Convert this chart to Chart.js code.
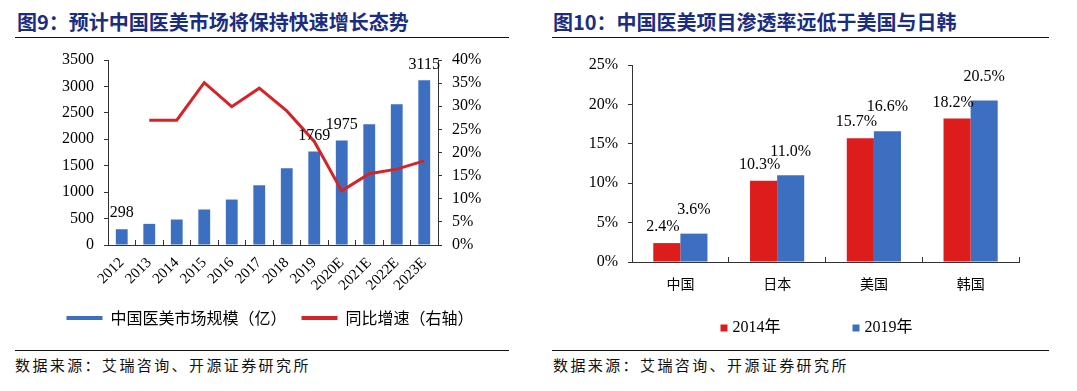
<!DOCTYPE html>
<html>
<head>
<meta charset="utf-8">
<script src="https://cdn.jsdelivr.net/npm/chart.js@4/dist/chart.umd.min.js"></script>
<style>
  html, body { margin: 0; padding: 0; background: #fff; }
  body { width: 1077px; height: 391px; position: relative; overflow: hidden; font-family: "Noto Sans CJK SC", sans-serif; }
  .title { position: absolute; top: 12px; font-size: 20px; line-height: 20px; font-weight: bold; color: #1b2d7f; white-space: nowrap; }
  .rule { position: absolute; height: 0; border-top: 1.5px solid #111; }
  .source { position: absolute; top: 357px; font-size: 15px; line-height: 16px; letter-spacing: 2.4px; color: #111; white-space: nowrap; }
  .box { position: absolute; top: 40px; height: 300px; }
</style>
</head>
<body>
<div class="title" style="left:17px">图9：预计中国医美市场将保持快速增长态势</div>
<div class="rule" style="left:15px;width:494px;top:37px"></div>
<div class="box" style="left:0;width:540px"><canvas id="marketChart"></canvas></div>
<div class="rule" style="left:15px;width:494px;top:350px"></div>
<div class="source" style="left:15px">数据来源：艾瑞咨询、开源证券研究所</div>

<div class="title" style="left:553px">图10：中国医美项目渗透率远低于美国与日韩</div>
<div class="rule" style="left:552px;width:497px;top:37px"></div>
<div class="box" style="left:540px;width:537px"><canvas id="rateChart"></canvas></div>
<div class="rule" style="left:552px;width:497px;top:350px"></div>
<div class="source" style="left:553px">数据来源：艾瑞咨询、开源证券研究所</div>

<script>
// chart 1 data
const years = ['2012', '2013', '2014', '2015', '2016', '2017', '2018', '2019', '2020E', '2021E', '2022E', '2023E'];
const marketSize = [298, 400, 482, 672, 860, 1130, 1450, 1769, 1975, 2285, 2665, 3115];
const yoyGrowth = [null, 27.0, 27.0, 35.1, 29.9, 33.9, 29.0, 22.4, 11.7, 15.4, 16.4, 18.2];
const labeledYears = ['2012', '2019', '2020E', '2023E'];
const sizeMax = 3500, sizeStep = 500;
const growthMax = 40, growthStep = 5;

// chart 2 data
const countries = ['中国', '日本', '美国', '韩国'];
const rate2014 = [2.4, 10.3, 15.7, 18.2];
const rate2019 = [3.6, 11.0, 16.6, 20.5];
const rateMax = 25, rateStep = 5;

const BLUE = '#3d6fc0';
const RED = '#dd1c1c';
const LINE_RED = '#d42428';
const AXIS = '#333';
const SERIF = "'Liberation Serif', 'Noto Sans CJK SC'";
const CJK = "'Noto Sans CJK SC'";

// value labels above bars
const valueLabels = {
    id: 'valueLabels',
    afterDatasetsDraw(chart, args, opts) {
        const ctx = chart.ctx;
        ctx.save();
        ctx.font = opts.font;
        ctx.fillStyle = '#000';
        ctx.textAlign = 'center';
        ctx.textBaseline = 'middle';
        chart.data.datasets.forEach((ds, di) => {
            const cfg = opts.sets[di];
            if (!cfg) return;
            chart.getDatasetMeta(di).data.forEach((bar, i) => {
                if (cfg.show && !cfg.show(i)) return;
                ctx.fillText(cfg.format(ds.data[i]), bar.x + cfg.dx, bar.y - cfg.dy);
            });
        });
        ctx.restore();
    }
};

// small square legend spaced wide apart
const pairLegend = {
    id: 'pairLegend',
    afterDraw(chart, args, opts) {
        if (!opts.box) return;
        const ctx = chart.ctx;
        ctx.save();
        ctx.font = opts.font;
        ctx.textBaseline = 'middle';
        const items = chart.data.datasets.map(ds => ({
            label: ds.label,
            color: ds.backgroundColor,
            w: opts.box + opts.gap + ctx.measureText(ds.label).width
        }));
        const total = items.reduce((s, it) => s + it.w, 0) + opts.spacing * (items.length - 1);
        let x = chart.width / 2 + opts.shift - total / 2;
        const y = chart.chartArea.bottom + opts.offset;
        items.forEach(it => {
            ctx.fillStyle = it.color;
            ctx.fillRect(x, y - opts.box / 2, opts.box, opts.box);
            ctx.fillStyle = '#000';
            ctx.fillText(it.label, x + opts.box + opts.gap, y);
            x += it.w + opts.spacing;
        });
        ctx.restore();
    }
};

new Chart(document.getElementById('marketChart'), {
    type: 'bar',
    data: {
        labels: years,
        datasets: [{
            label: '中国医美市场规模（亿）',
            data: marketSize,
            backgroundColor: BLUE,
            borderWidth: 0,
            yAxisID: 'y',
            categoryPercentage: 1,
            barPercentage: 0.43,
            order: 2
        }, {
            type: 'line',
            label: '同比增速（右轴）',
            data: yoyGrowth,
            borderColor: LINE_RED,
            backgroundColor: LINE_RED,
            borderWidth: 3,
            pointRadius: 0,
            tension: 0,
            fill: false,
            yAxisID: 'y1',
            order: 1
        }]
    },
    options: {
        responsive: true,
        maintainAspectRatio: false,
        animation: false,
        layout: { padding: { top: 20, left: 0, right: 0, bottom: 4 } },
        plugins: {
            tooltip: { enabled: false },
            legend: {
                position: 'bottom',
                labels: {
                    boxWidth: 36,
                    boxHeight: 4,
                    padding: 15,
                    color: '#000',
                    font: { family: CJK, size: 16 },
                    sort: (a, b) => a.datasetIndex - b.datasetIndex,
                    generateLabels: chart => Chart.defaults.plugins.legend.labels.generateLabels(chart)
                        .map(l => ({ ...l, lineWidth: 0 }))
                }
            },
            valueLabels: {
                font: '16px ' + SERIF,
                sets: [{
                    show: i => labeledYears.includes(years[i]),
                    format: v => String(v),
                    dx: 0,
                    dy: 16
                }]
            },
            pairLegend: { box: 0 }
        },
        scales: {
            x: {
                afterFit: s => { s.height = 50; },
                grid: { drawOnChartArea: false, tickLength: -5, color: AXIS },
                border: { color: AXIS },
                ticks: {
                    color: '#000',
                    font: { family: SERIF, size: 15 },
                    minRotation: 45,
                    maxRotation: 45,
                    autoSkip: false,
                    padding: 14
                }
            },
            y: {
                min: 0,
                max: sizeMax,
                afterFit: s => { s.width = 108; },
                grid: { drawOnChartArea: false, tickLength: 4, color: AXIS },
                border: { color: AXIS },
                ticks: {
                    stepSize: sizeStep,
                    autoSkip: false,
                    color: '#000',
                    font: { family: SERIF, size: 16 },
                    padding: 10,
                    callback: v => String(v)
                }
            },
            y1: {
                position: 'right',
                min: 0,
                max: growthMax,
                afterFit: s => { s.width = 102; },
                grid: { drawOnChartArea: false, tickLength: 4, color: AXIS },
                border: { color: AXIS },
                ticks: {
                    stepSize: growthStep,
                    autoSkip: false,
                    color: '#000',
                    font: { family: SERIF, size: 16 },
                    padding: 10,
                    callback: v => v + '%'
                }
            }
        }
    },
    plugins: [valueLabels, pairLegend]
});

new Chart(document.getElementById('rateChart'), {
    type: 'bar',
    data: {
        labels: countries,
        datasets: [{
            label: '2014年',
            data: rate2014,
            backgroundColor: RED,
            borderWidth: 0,
            categoryPercentage: 0.56,
            barPercentage: 1
        }, {
            label: '2019年',
            data: rate2019,
            backgroundColor: BLUE,
            borderWidth: 0,
            categoryPercentage: 0.56,
            barPercentage: 1
        }]
    },
    options: {
        responsive: true,
        maintainAspectRatio: false,
        animation: false,
        layout: { padding: { top: 25, left: 0, right: 58, bottom: 0 } },
        plugins: {
            tooltip: { enabled: false },
            legend: { display: false },
            valueLabels: {
                font: '16px ' + SERIF,
                sets: [
                    { format: v => v.toFixed(1) + '%', dx: -4, dy: 16 },
                    { format: v => v.toFixed(1) + '%', dx: 0, dy: 24 }
                ]
            },
            pairLegend: {
                box: 7,
                gap: 5,
                spacing: 72,
                shift: 8,
                offset: 66,
                font: '16px ' + SERIF
            }
        },
        scales: {
            x: {
                afterFit: s => { s.height = 78; },
                grid: { drawOnChartArea: false, tickLength: -5, color: AXIS },
                border: { color: AXIS },
                ticks: { color: '#000', font: { family: CJK, size: 14 }, padding: 18 }
            },
            y: {
                min: 0,
                max: rateMax,
                afterFit: s => { s.width = 92; },
                grid: { drawOnChartArea: false, tickLength: 4, color: AXIS },
                border: { color: AXIS },
                ticks: {
                    stepSize: rateStep,
                    color: '#000',
                    font: { family: SERIF, size: 16 },
                    padding: 10,
                    callback: v => v + '%'
                }
            }
        }
    },
    plugins: [valueLabels, pairLegend]
});
</script>
</body>
</html>
